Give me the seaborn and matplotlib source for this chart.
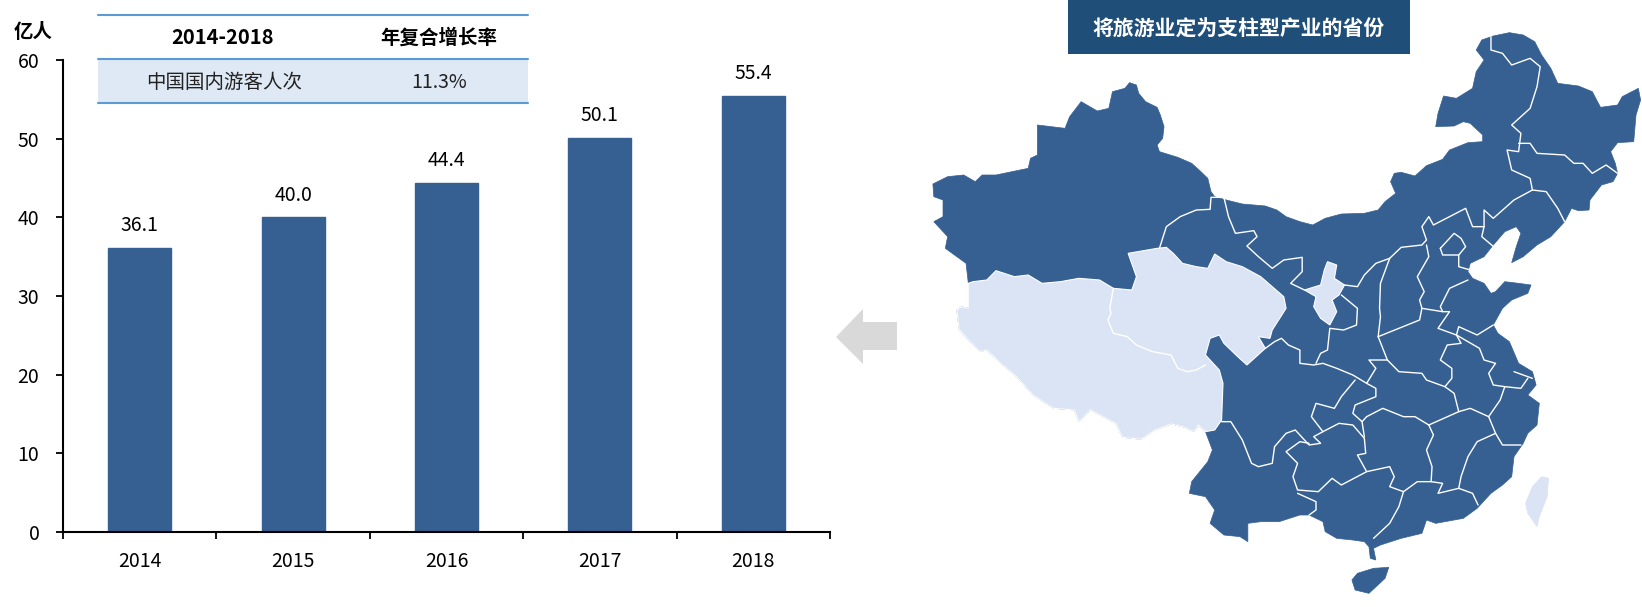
import pandas as pd
import seaborn as sns
import matplotlib.pyplot as plt
from matplotlib.patches import Polygon, Rectangle

# bar values
years = ['2014', '2015', '2016', '2017', '2018']
visits = [36.1, 40.0, 44.4, 50.1, 55.4]

table_header = ['2014-2018', '年复合增长率']
table_row = ['中国国内游客人次', '11.3%']
map_title = '将旅游业定为支柱型产业的省份'

BLUE = '#366092'
LIGHT = '#DBE4F4'
W, H = 1642, 607

# map outlines, traced by hand. units: 0-1568 across, 0-1821 down
mainland = [(455,248),(470,255),(475,280),(490,305),(515,322),(522,345),(530,380),(527,415),(515,435),(520,455),
    (560,472),(590,490),(610,515),(625,535),(632,575),(640,590),(665,600),(700,612),(750,618),(775,630),(795,650),
    (825,665),(853,675),(880,655),(915,642),(965,640),(995,630),(1010,605),(1033,580),(1022,545),(1030,520),(1045,517),
    (1075,528),(1100,497),(1135,478),(1150,450),(1190,428),(1222,425),(1222,405),(1195,370),(1180,365),(1160,378),
    (1120,380),(1125,340),(1137,288),(1165,295),(1200,265),(1208,215),(1225,180),(1208,150),(1220,120),(1245,108),
    (1280,98),(1310,105),(1335,125),(1350,165),(1370,205),(1385,250),(1430,258),(1460,275),(1478,322),(1515,315),
    (1525,290),(1560,265),(1565,300),(1555,345),(1550,425),(1515,428),(1500,455),(1510,490),(1515,520),(1505,545),
    (1480,555),(1455,600),(1453,630),(1430,632),(1415,625),(1400,665),(1370,710),(1340,735),(1310,770),(1285,788),
    (1295,740),(1305,700),(1295,680),(1270,695),(1245,735),(1225,770),(1195,790),(1190,815),(1200,835),(1225,850),
    (1240,880),(1250,875),(1270,845),(1300,850),(1327,855),(1320,880),(1285,900),(1265,925),(1245,975),(1255,1000),
    (1280,1025),(1300,1090),(1330,1115),(1338,1155),(1320,1185),(1345,1210),(1340,1275),(1320,1300),(1310,1330),
    (1290,1370),(1285,1430),(1265,1455),(1240,1480),(1210,1525),(1180,1555),(1120,1570),(1100,1560),(1090,1600),
    (1045,1615),(1000,1635),(985,1645),(990,1680),(978,1675),(975,1640),(965,1625),(940,1620),(905,1615),(880,1595),
    (875,1565),(845,1545),(825,1545),(780,1565),(740,1565),(712,1570),(712,1625),(695,1610),(660,1605),(630,1570),
    (640,1530),(620,1490),(585,1480),(590,1445),(625,1385),(635,1350),(620,1295),(605,1275),(595,1295),(570,1280),
    (545,1272),(510,1290),(480,1318),(440,1312),(425,1270),(370,1230),(345,1265),(335,1230),(290,1225),(245,1185),
    (210,1130),(175,1090),(145,1050),(130,1055),(85,990),(80,930),(90,920),(105,925),(105,850),(100,790),(70,760),
    (55,745),(60,710),(30,665),(50,650),(50,600),(30,590),(28,552),(60,530),(95,525),(120,545),(135,525),(165,525),
    (235,505),(240,475),(255,465),(255,375),(315,385),(325,350),(350,305),(385,333),(410,325),(418,275),(445,265)]
hainan = [(985,1705),(1018,1702),(1010,1735),(975,1780),(945,1770),(938,1740),(950,1720)]
# Tibet and Qinghai together
tibet_qinghai = [(105,850),(115,845),(145,840),(165,812),(205,830),(235,825),(265,850),(305,845),(345,835),(390,840),
    (420,865),(460,870),(470,830),(452,760),(515,745),(535,742),(550,760),(570,790),(600,800),(625,805),(640,762),
    (665,785),(700,800),(740,830),(790,890),(795,925),(765,990),(760,1015),(735,1010),(750,1045),(730,1070),(710,1095),
    (690,1070),(660,1030),(650,1005),(630,1015),(620,1065),(650,1110),(658,1150),(655,1260),(640,1290),(620,1295),
    (605,1275),(595,1295),(570,1280),(545,1272),(510,1290),(480,1318),(440,1312),(425,1270),(370,1230),(345,1265),
    (335,1230),(290,1225),(245,1185),(210,1130),(175,1090),(145,1050),(130,1055),(85,990),(80,930),(90,920),(105,925)]
ningxia = [(885,785),(905,795),(900,835),(922,855),(910,885),(895,900),(905,935),(890,975),(870,955),(855,920),
    (860,890),(835,870),(870,855),(878,810)]
taiwan = [(1350,1430),(1365,1435),(1362,1490),(1345,1550),(1340,1580),(1320,1540),(1315,1510),(1330,1460)]

borders = [
    [(520,745),(535,680),(565,650),(600,630),(630,628),(632,592),(660,592)],
    [(660,592),(670,650),(685,700),(725,692),(732,710),(710,738),(735,770),(765,805),(790,780),(830,772),(830,815),(805,850),(835,870)],
    [(922,855),(950,860),(965,825),(990,790),(1020,775),(1045,742),(1090,735),(1100,720),(1090,680),(1105,650),(1115,675),
     (1150,650),(1185,625),(1200,680),(1225,680),(1225,630),(1245,655),(1290,600),(1330,570),(1325,535),(1285,510),(1275,450),
     (1300,455),(1305,400),(1285,375),(1325,325),(1340,260),(1347,200),(1325,175),(1285,195),(1265,160),(1240,150),(1240,110)],
    [(1300,430),(1325,430),(1340,460),(1400,465),(1420,490),(1440,490),(1460,520),(1490,495),(1515,520)],
    [(1330,570),(1360,575),(1385,625),(1400,665)],
    [(1225,680),(1220,710),(1250,745)],
    [(1100,735),(1105,770),(1080,830),(1095,875),(1085,900),(1090,925),(1135,935)],
    [(1130,745),(1160,700),(1175,715),(1185,740),(1170,765),(1135,765),(1130,745)],
    [(1170,765),(1170,800),(1195,810)],
    [(1190,840),(1150,865),(1130,920),(1135,935),(1150,935),(1125,985),(1165,1005),(1170,980),(1210,1005),(1245,975)],
    [(1020,775),(1000,850),(998,925),(1000,950),(995,1010)],
    [(995,1010),(1040,985),(1085,960),(1090,925)],
    [(915,885),(950,925),(948,975),(920,990),(890,985),(885,1050),(870,1060),(860,1090)],
    [(750,1045),(770,1025),(785,1015),(800,1035),(825,1050),(825,1090),(855,1095),(875,1090),(905,1105),(940,1125),(970,1150),
     (990,1165),(990,1190),(945,1215),(940,1240),(960,1265),(965,1310)],
    [(995,1010),(1015,1080),(975,1080),(990,1105),(970,1150)],
    [(1015,1080),(1040,1115),(1090,1120),(1100,1140),(1140,1160),(1155,1135),(1155,1105),(1130,1080),(1145,1035),(1175,1030),(1165,1005)],
    [(1165,1005),(1215,1045),(1225,1080),(1250,1090),(1235,1120),(1245,1155),(1270,1160),(1305,1165),(1320,1135)],
    [(1290,1115),(1330,1135)],
    [(1140,1160),(1160,1180),(1170,1235)],
    [(1270,1160),(1260,1200),(1235,1250),(1195,1225),(1170,1235),(1105,1275)],
    [(1105,1275),(1075,1250),(1050,1250),(1005,1225),(970,1250),(960,1265)],
    [(945,1140),(915,1190),(900,1225),(860,1210),(850,1250),(875,1295),(910,1270),(940,1275),(965,1315)],
    [(875,1295),(855,1310),(870,1330),(845,1335),(815,1290),(795,1300),(770,1340),(765,1390),(735,1400),(720,1390),(700,1320),(675,1265),(655,1265)],
    [(845,1330),(825,1325),(795,1355),(820,1390),(810,1430),(820,1470),(865,1475),(895,1435),(915,1455),(970,1415),(1020,1400),
     (1030,1430),(1020,1460),(1050,1475),(1080,1445),(1110,1445),(1135,1450),(1125,1480),(1170,1465),(1200,1480),(1212,1515)],
    [(965,1315),(968,1360),(950,1365),(970,1415)],
    [(1105,1275),(1115,1305),(1100,1350),(1112,1400),(1110,1445)],
    [(1235,1250),(1250,1300),(1210,1325),(1190,1370),(1175,1430),(1170,1465)],
    [(1250,1300),(1265,1335),(1305,1335)],
    [(1050,1475),(1040,1520),(1020,1570),(985,1615)],
    [(820,1480),(860,1505),(860,1530),(845,1545)],
]
tibet_qinghai_border = [(420,865),(412,925),(415,940),(408,960),(420,1000),(450,1010),(470,1035),(505,1055),(545,1065),
    (560,1105),(580,1115),(600,1110),(620,1095)]

arrow_shape = [(836,337),(863,309),(863,322),(897,322),(897,350),(863,350),(863,364)]

sns.set_theme(style='white')
plt.rcParams['font.family'] = ['Noto Sans CJK SC', 'DejaVu Sans']

fig = plt.figure(figsize=(W / 100, H / 100), dpi=100, facecolor='white')

# bar chart
df = pd.DataFrame({'year': years, 'visits': visits})
ax = fig.add_axes([63 / W, (H - 532) / H, 767 / W, 472 / H])
sns.barplot(data=df, x='year', y='visits', color=BLUE, saturation=1, width=0.41,
            edgecolor=BLUE, linewidth=1, ax=ax)
ax.set_xlim(-0.5, 4.5)
ax.set_ylim(0, 60)
ax.set_xlabel('')
ax.set_ylabel('')
ax.set_yticks(range(0, 61, 10))
ax.set_xticks([i - 0.5 for i in range(6)], minor=True)
ax.tick_params(axis='x', which='major', length=0, pad=13.5, labelsize=14, colors='black')
ax.tick_params(axis='x', which='minor', length=5, width=1.3, color='black', bottom=True)
ax.tick_params(axis='y', length=5, width=1.3, color='black', left=True, pad=12, labelsize=14, labelcolor='black')
for s in ['top', 'right']:
    ax.spines[s].set_visible(False)
for s in ['left', 'bottom']:
    ax.spines[s].set_color('black')
    ax.spines[s].set_linewidth(1.5)
ax.bar_label(ax.containers[0], fmt='%.1f', padding=8.5, fontsize=14, color='black')

# map
mp = fig.add_axes([920 / W, 0, 722 / W, 1])
mp.set_xlim(0, 1568)
mp.set_ylim(1821, 0)
mp.axis('off')
mp.add_patch(Polygon(mainland, fc=BLUE, ec=BLUE, lw=0.5))
mp.add_patch(Polygon(hainan, fc=BLUE, ec=BLUE, lw=0.5))
mp.add_patch(Polygon(tibet_qinghai, fc=LIGHT, ec='white', lw=0.8))
mp.add_patch(Polygon(ningxia, fc=LIGHT, ec='white', lw=0.8))
mp.add_patch(Polygon(taiwan, fc=LIGHT, ec=LIGHT, lw=0.5))
for line in borders + [tibet_qinghai_border]:
    xs, ys = zip(*line)
    mp.plot(xs, ys, color='white', lw=1.0, solid_joinstyle='round')

# table, title box, arrow in pixel positions
top = fig.add_axes([0, 0, 1, 1], facecolor='none')
top.set_xlim(0, W)
top.set_ylim(H, 0)
top.axis('off')
top.add_patch(Rectangle((98, 59), 430, 44, fc='#DEE9F5', ec='none'))
for y in [14.5, 59, 103]:
    top.plot([98, 528], [y, y], color='#5B9BD5', lw=1.5)
top.text(223, 38, table_header[0], ha='center', va='center', fontsize=14.5, fontweight='bold', color='black')
top.text(439, 38, table_header[1], ha='center', va='center', fontsize=14, fontweight='bold', color='black')
top.text(224, 83, table_row[0], ha='center', va='center', fontsize=14, color='#222222')
top.text(439, 83, table_row[1], ha='center', va='center', fontsize=14, color='#222222')
top.text(33, 33, '亿人', ha='center', va='center', fontsize=14, fontweight='bold', color='black')

top.add_patch(Rectangle((1068, 0), 342, 53.5, fc='#1F4E79', ec='none'))
top.text(1239, 29, map_title, ha='center', va='center', fontsize=15, fontweight='bold', color='white')
top.add_patch(Polygon(arrow_shape, fc='#D9D9D9', ec='none'))

plt.savefig('out.png', dpi=100)
plt.close()
